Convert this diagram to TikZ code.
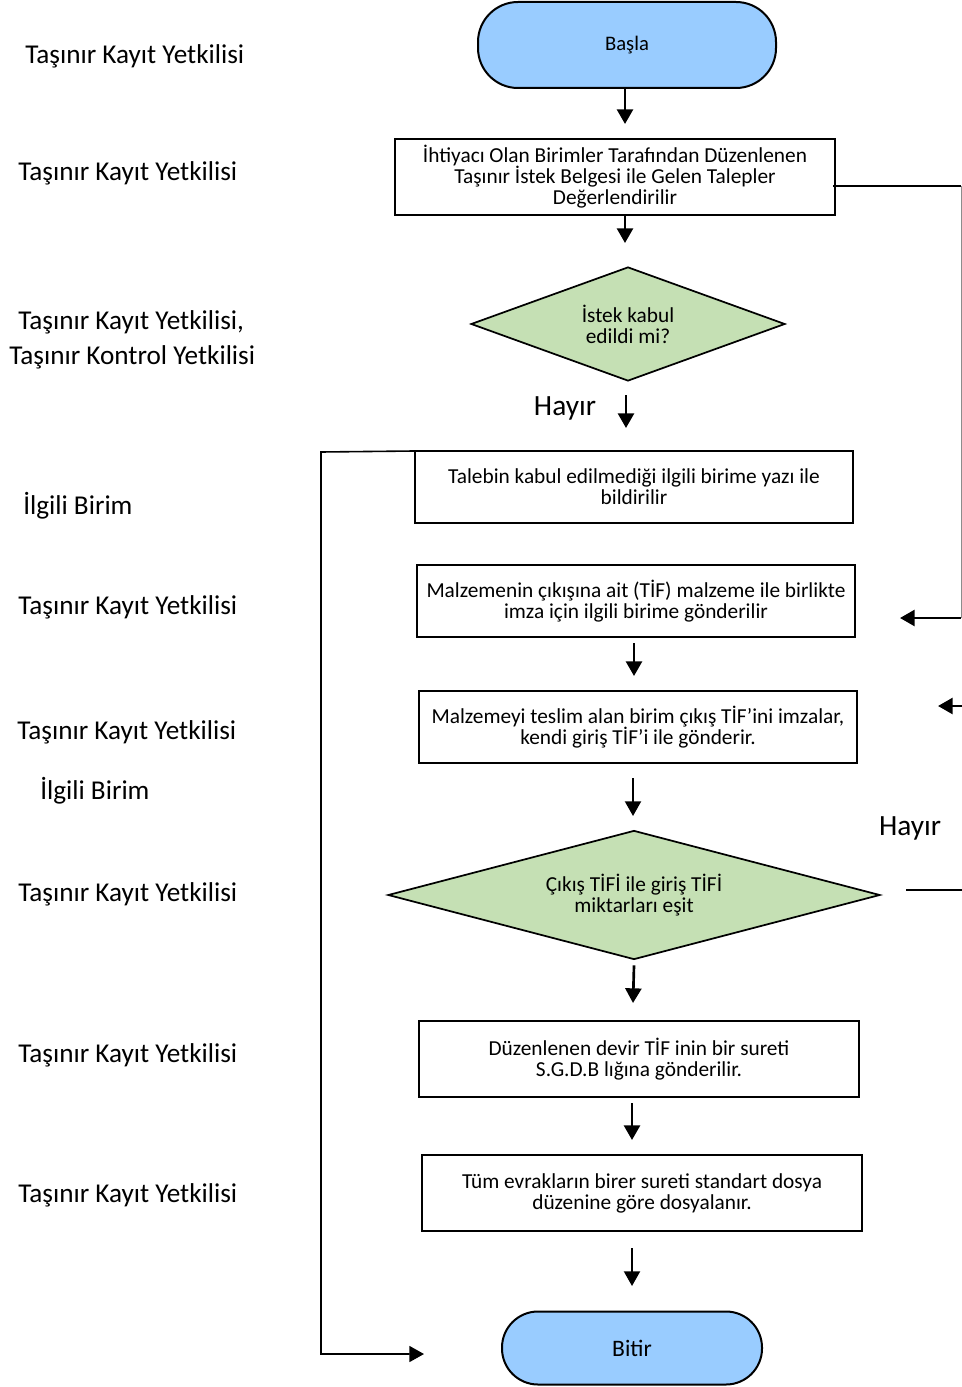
\documentclass[tikz,border=0pt]{standalone}
\usepackage{fontspec}
\setmainfont{Carlito}
\usetikzlibrary{shapes.geometric,arrows.meta}
\definecolor{termblue}{HTML}{99CCFF}
\definecolor{decgreen}{HTML}{C5E0B4}
\tikzset{
  role/.style={anchor=west, inner sep=0pt, font=\fontsize{20.4}{24}\selectfont},
  procbox/.style={draw, line width=1.5pt, fill=white, align=center, inner sep=0pt,
    font=\fontsize{16}{15.75}\selectfont},
  terminal/.style={draw, line width=1.5pt, fill=termblue, rounded corners=30pt, inner sep=0pt},
  decision/.style={diamond, draw, line width=1.3pt, fill=decgreen, align=center, inner sep=0pt,
    font=\fontsize{16}{15.75}\selectfont},
  flow/.style={line width=2pt, -{Triangle[length=11pt,width=12pt]}},
  thinflow/.style={line width=1.5pt, -{Triangle[length=11pt,width=12pt]}},
  note/.style={inner sep=0pt, font=\fontsize{22}{26}\selectfont}
}
\begin{document}
\begin{tikzpicture}[x=0.75pt,y=-0.75pt]
\useasboundingbox (0,0) rectangle (962,1387);

% role column
\node[role] (r1) at (25,56) {Taşınır Kayıt Yetkilisi};
\node[role] (r2) at (18,173) {Taşınır Kayıt Yetkilisi};
\node[role] (r3a) at (18,322) {Taşınır Kayıt Yetkilisi,};
\node[role] (r3b) at (9,357) {Taşınır Kontrol Yetkilisi};
\node[role] (r4) at (23,506) {İlgili Birim};
\node[role] (r5) at (18,607) {Taşınır Kayıt Yetkilisi};
\node[role] (r6) at (17,732) {Taşınır Kayıt Yetkilisi};
\node[role] (r7) at (40,791) {İlgili Birim};
\node[role] (r8) at (18,894) {Taşınır Kayıt Yetkilisi};
\node[role] (r9) at (18,1055) {Taşınır Kayıt Yetkilisi};
\node[role] (r10) at (18,1195) {Taşınır Kayıt Yetkilisi};

% flow shapes
\node[terminal, minimum width=223.5pt, minimum height=64.5pt, font=\fontsize{15.5}{18}\selectfont]
  (start) at (627,45) {Başla};
\node[procbox, minimum width=330pt, minimum height=57pt] (b1) at (615,177)
  {İhtiyacı Olan Birimler Tarafından Düzenlenen\\Taşınır İstek Belgesi ile Gelen Talepler\\Değerlendirilir};
\node[decision, aspect=2.75, minimum width=235.5pt, minimum height=85.5pt] (d1) at (628,324)
  {İstek kabul\\edildi mi?};
\node[procbox, minimum width=328.5pt, minimum height=54pt] (b2) at (634,487)
  {Talebin kabul edilmediği ilgili birime yazı ile\\bildirilir};
\node[procbox, minimum width=328.5pt, minimum height=54pt] (b3) at (636,601)
  {Malzemenin çıkışına ait (TİF) malzeme ile birlikte\\imza için ilgili birime gönderilir};
\node[procbox, minimum width=328.5pt, minimum height=54pt] (b4) at (638,727)
  {Malzemeyi teslim alan birim çıkış TİF’ini imzalar,\\kendi giriş TİF’i ile gönderir.};
\node[decision, aspect=3.81, minimum width=369pt, minimum height=96.75pt] (d2) at (634,895)
  {Çıkış TİFİ ile giriş TİFİ\\miktarları eşit};
\node[procbox, minimum width=330pt, minimum height=57pt] (b5) at (639,1059)
  {Düzenlenen devir TİF inin bir sureti\\S.G.D.B lığına gönderilir.};
\node[procbox, minimum width=330pt, minimum height=57pt] (b6) at (642,1193)
  {Tüm evrakların birer sureti standart dosya\\düzenine göre dosyalanır.};
\node[terminal, minimum width=195pt, minimum height=54.75pt, rounded corners=27pt,
  font=\fontsize{17.7}{20}\selectfont] (stop) at (632,1348) {Bitir};

% labels
\node[note] (h1) at (565,408) {Hayır};
\node[note] (h2) at (910,828) {Hayır};

% free ends of the short connectors
\coordinate (e1) at (625,124);
\coordinate (e2) at (625,243);
\coordinate (s3) at (626,395);
\coordinate (e3) at (626,428);
\coordinate (s4) at (634,643);
\coordinate (e4) at (634,676);
\coordinate (s5) at (633,778);
\coordinate (e5) at (633,816);
\coordinate (e6) at (633,1003);
\coordinate (s7) at (632,1103);
\coordinate (e7) at (632,1140);
\coordinate (s8) at (632,1248);
\coordinate (e8) at (632,1286);
\coordinate (loopL) at (321,452);
\coordinate (loopB) at (321,1354);
\coordinate (loopE) at (424,1354);
\coordinate (rTop) at (961,186);
\coordinate (rBot) at (961,618);
\coordinate (rEnd) at (900,618);
\coordinate (rs2) at (962,706);
\coordinate (re2) at (938,706);
\coordinate (ns) at (906,890);
\coordinate (ne) at (962,890);

% connectors
\draw[flow] (start.south -| e1) -- (e1);
\draw[flow] (b1.south -| e2) -- (e2);
\draw[flow] (s3) -- (e3);
\draw[flow] (s4) -- (e4);
\draw[thinflow] (s5) -- (e5);
\draw[flow] (d2.south) ++(0,5) -- (e6);
\draw[flow] (s7) -- (e7);
\draw[thinflow] (s8) -- (e8);
\draw[line width=1.2pt, -{Triangle[length=11pt,width=12pt]}] (b2.north west) ++(0,1) -- (loopL) -- (loopB) -- (loopE);
\draw[line width=1.8pt] (b1.east |- rTop) ++(-3,0) -- (rTop);
\draw[line width=0.6pt, black!45] (rTop) -- (rBot);
\draw[flow] (rBot) -- (rEnd);
\draw[flow] (rs2) -- (re2);
\draw[line width=1.3pt] (ns) -- (ne);
\end{tikzpicture}
\end{document}
